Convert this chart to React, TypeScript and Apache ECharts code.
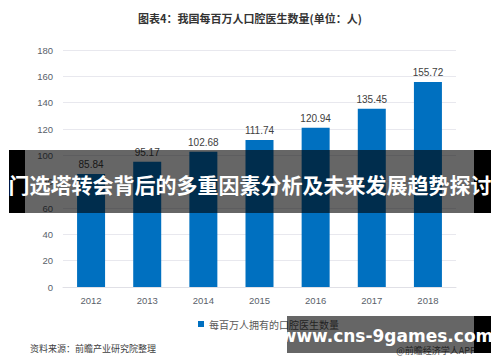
import React, { useEffect, useRef } from "react";
import * as echarts from "echarts";

const years = ["2012", "2013", "2014", "2015", "2016", "2017", "2018"];
const dentistsPerMillion = [85.84, 95.17, 102.68, 111.74, 120.94, 135.45, 155.72];
const seriesName = "每百万人拥有的口腔医生数量";
const chartTitle = "图表4：我国每百万人口腔医生数量(单位：人)";
const sourceNote = "资料来源：前瞻产业研究院整理";
const bannerText = "门选塔转会背后的多重因素分析及未来发展趋势探讨";
const siteText = "www.cns-9games.com";
const appText = "@前瞻经济学人APP";

const FONT = "'Microsoft YaHei', 'Noto Sans CJK SC', 'Noto Sans', sans-serif";
const NUM_FONT = "'Liberation Sans', Arial, 'Noto Sans CJK SC', sans-serif";

export default function App() {
  const ref = useRef<HTMLDivElement>(null);

  useEffect(() => {
    if (!ref.current) return;
    const chart = echarts.init(ref.current, undefined, { renderer: "svg" });
    chart.setOption({
      animation: false,
      backgroundColor: "#ffffff",
      textStyle: { fontFamily: NUM_FONT },
      title: {
        text: chartTitle,
        left: "center",
        top: 7,
        textStyle: { fontSize: 11, fontWeight: "bold", color: "#333333", fontFamily: FONT },
      },
      grid: { left: 63, right: 44, top: 50, bottom: 75 },
      legend: {
        data: [seriesName],
        top: 314,
        left: 193,
        itemWidth: 6,
        itemHeight: 6,
        itemGap: 3,
        icon: "rect",
        textStyle: { fontSize: 10, color: "#595959", fontFamily: FONT },
      },
      xAxis: {
        type: "category",
        data: years,
        axisLine: { show: true, lineStyle: { color: "#e0e0e6" } },
        axisTick: { show: false },
        axisLabel: { color: "#5a5f6a", fontSize: 9.5, margin: 9, fontFamily: NUM_FONT },
      },
      yAxis: {
        type: "value",
        min: 0,
        max: 180,
        interval: 20,
        axisLine: { show: false },
        axisTick: { show: false },
        axisLabel: { color: "#5a5f6a", fontSize: 9.5, margin: 10, fontFamily: NUM_FONT },
        splitLine: { lineStyle: { color: "#e8e8ee" } },
      },
      series: [
        {
          name: seriesName,
          type: "bar",
          data: dentistsPerMillion,
          barWidth: 28,
          itemStyle: { color: "#0070C0" },
          label: {
            show: true,
            position: "top",
            distance: 4,
            color: "#404040",
            fontSize: 10,
            fontFamily: NUM_FONT,
            formatter: (p: any) => p.value.toFixed(2),
          },
        },
      ],
      graphic: [
        {
          type: "text",
          x: 30,
          y: 348,
          style: {
            text: sourceNote,
            fill: "#404040",
            font: `9px ${FONT}`,
            verticalAlign: "middle",
          },
        },
        // headline banner across the chart
        {
          type: "rect",
          shape: { x: 9, y: 150, width: 482, height: 63 },
          style: { fill: "rgba(0,0,0,0.6)" },
          z: 100,
        },
        {
          type: "rect",
          shape: { x: 9, y: 150, width: 16, height: 63 },
          style: { fill: "#000000" },
          z: 101,
        },
        {
          type: "rect",
          shape: { x: 474, y: 150, width: 17, height: 63 },
          style: { fill: "#000000" },
          z: 101,
        },
        {
          type: "text",
          x: 250,
          y: 184,
          z: 102,
          style: {
            text: bannerText,
            fill: "#ffffff",
            font: `bold 21px ${FONT}`,
            align: "center",
            verticalAlign: "middle",
          },
        },
        // site badge at the bottom right
        {
          type: "text",
          x: 436,
          y: 350,
          z: 99,
          style: {
            text: appText,
            fill: "#555555",
            font: `9px ${FONT}`,
            align: "center",
            verticalAlign: "middle",
          },
        },
        {
          type: "rect",
          shape: { x: 287, y: 316, width: 204, height: 37 },
          style: { fill: "rgba(0,0,0,0.6)" },
          z: 100,
        },
        {
          type: "rect",
          shape: { x: 474, y: 316, width: 17, height: 37 },
          style: { fill: "#000000" },
          z: 101,
        },
        {
          type: "text",
          x: 387,
          y: 336,
          z: 102,
          style: {
            text: siteText,
            fill: "#ffffff",
            font: `bold 17px 'DejaVu Sans', sans-serif`,
            align: "center",
            verticalAlign: "middle",
          },
        },
      ],
    });
    return () => chart.dispose();
  }, []);

  return (
    <div
      ref={ref}
      style={{ position: "fixed", left: 0, top: 0, width: 500, height: 362 }}
    />
  );
}
